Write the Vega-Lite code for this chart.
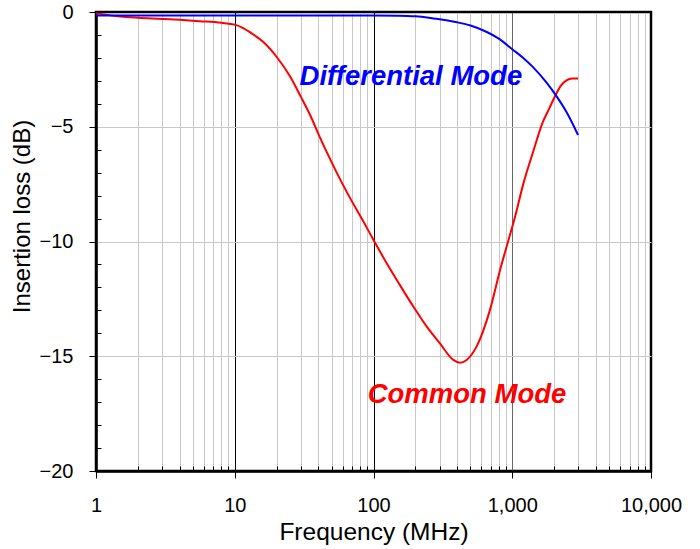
{
  "$schema": "https://vega.github.io/schema/vega-lite/v6.json",
  "width": 555,
  "height": 459,
  "autosize": {"type": "none"},
  "padding": {"left": 96, "top": 12, "right": 49, "bottom": 78},
  "background": "white",
  "config": {
    "font": "Liberation Sans",
    "view": {"stroke": "black", "strokeWidth": 2.5},
    "axis": {"labelColor": "black", "titleColor": "black", "tickColor": "black", "domainColor": "black", "titleFontWeight": "normal", "labelFont": "Liberation Sans", "titleFont": "Liberation Sans"}
  },
  "datasets": {
    "curves": [
      {"mode": "Common", "f": 1, "v": -0.06},
      {"mode": "Common", "f": 1.5, "v": -0.2},
      {"mode": "Common", "f": 2, "v": -0.25},
      {"mode": "Common", "f": 3, "v": -0.3},
      {"mode": "Common", "f": 4, "v": -0.34},
      {"mode": "Common", "f": 5.6, "v": -0.4},
      {"mode": "Common", "f": 8, "v": -0.47},
      {"mode": "Common", "f": 10, "v": -0.55},
      {"mode": "Common", "f": 11.5, "v": -0.7},
      {"mode": "Common", "f": 13, "v": -0.9},
      {"mode": "Common", "f": 16, "v": -1.3},
      {"mode": "Common", "f": 20, "v": -1.95},
      {"mode": "Common", "f": 25, "v": -2.8},
      {"mode": "Common", "f": 30, "v": -3.7},
      {"mode": "Common", "f": 35, "v": -4.5},
      {"mode": "Common", "f": 41, "v": -5.45},
      {"mode": "Common", "f": 48.6, "v": -6.4},
      {"mode": "Common", "f": 57, "v": -7.25},
      {"mode": "Common", "f": 67.7, "v": -8.1},
      {"mode": "Common", "f": 84, "v": -9.1},
      {"mode": "Common", "f": 100, "v": -9.93},
      {"mode": "Common", "f": 124.5, "v": -10.95},
      {"mode": "Common", "f": 155, "v": -11.9},
      {"mode": "Common", "f": 194, "v": -12.84},
      {"mode": "Common", "f": 242, "v": -13.71},
      {"mode": "Common", "f": 301, "v": -14.44},
      {"mode": "Common", "f": 376, "v": -15.16},
      {"mode": "Common", "f": 420, "v": -15.28},
      {"mode": "Common", "f": 469, "v": -15.16},
      {"mode": "Common", "f": 553, "v": -14.58},
      {"mode": "Common", "f": 691, "v": -12.98},
      {"mode": "Common", "f": 817, "v": -11.24},
      {"mode": "Common", "f": 933, "v": -10.0},
      {"mode": "Common", "f": 1050, "v": -8.9},
      {"mode": "Common", "f": 1200, "v": -7.5},
      {"mode": "Common", "f": 1413, "v": -6.1},
      {"mode": "Common", "f": 1660, "v": -4.8},
      {"mode": "Common", "f": 1850, "v": -4.2},
      {"mode": "Common", "f": 2040, "v": -3.65},
      {"mode": "Common", "f": 2250, "v": -3.2},
      {"mode": "Common", "f": 2460, "v": -2.98},
      {"mode": "Common", "f": 2700, "v": -2.9},
      {"mode": "Common", "f": 2980, "v": -2.9},
      {"mode": "Differential", "f": 1, "v": -0.15},
      {"mode": "Differential", "f": 10, "v": -0.15},
      {"mode": "Differential", "f": 100, "v": -0.15},
      {"mode": "Differential", "f": 150, "v": -0.16},
      {"mode": "Differential", "f": 200, "v": -0.19},
      {"mode": "Differential", "f": 250, "v": -0.25},
      {"mode": "Differential", "f": 300, "v": -0.32},
      {"mode": "Differential", "f": 400, "v": -0.45},
      {"mode": "Differential", "f": 500, "v": -0.59},
      {"mode": "Differential", "f": 650, "v": -0.86},
      {"mode": "Differential", "f": 800, "v": -1.16},
      {"mode": "Differential", "f": 1000, "v": -1.62},
      {"mode": "Differential", "f": 1200, "v": -2.0},
      {"mode": "Differential", "f": 1400, "v": -2.38},
      {"mode": "Differential", "f": 1780, "v": -3.1},
      {"mode": "Differential", "f": 2100, "v": -3.7},
      {"mode": "Differential", "f": 2460, "v": -4.36},
      {"mode": "Differential", "f": 2980, "v": -5.36}
    ],
    "labels": [
      {"label": "Differential Mode", "f": 186, "v": -3.18},
      {"label": "Common Mode", "f": 472, "v": -17.04}
    ]
  },
  "layer": [
    {
      "data": {"name": "curves"},
      "transform": [{"filter": "datum.mode == 'Common'"}],
      "mark": {"type": "line", "color": "#ff0000", "strokeWidth": 2, "interpolate": "monotone"},
      "encoding": {
        "x": {"field": "f", "type": "quantitative", "scale": {"type": "log", "domain": [1, 10000]},
          "axis": {"orient": "bottom", "values": [2,3,4,5,6,7,8,9,20,30,40,50,60,70,80,90,200,300,400,500,600,700,800,900,2000,3000,4000,5000,6000,7000,8000,9000],
            "grid": true, "gridColor": "#c8c8c8", "gridWidth": 1, "labels": false, "domain": false, "ticks": true, "tickSize": -5, "title": null}},
        "y": {"field": "v", "type": "quantitative", "scale": {"domain": [-20, 0]},
          "axis": {"orient": "left", "values": [-1,-2,-3,-4,-6,-7,-8,-9,-11,-12,-13,-14,-16,-17,-18,-19],
            "grid": false, "labels": false, "domain": false, "ticks": true, "tickSize": -5, "title": null}}
      }
    },
    {
      "data": {"name": "curves"},
      "transform": [{"filter": "datum.mode == 'Differential'"}],
      "mark": {"type": "line", "color": "#0000ff", "strokeWidth": 2, "interpolate": "monotone"},
      "encoding": {
        "x": {"field": "f", "type": "quantitative", "scale": {"type": "log", "domain": [1, 10000]},
          "axis": {"orient": "bottom", "values": [1, 10, 100, 1000, 10000], "format": ",", "grid": true,
            "gridColor": {"condition": {"test": "datum.value == 1000", "value": "#666666"}, "value": "black"}, "gridWidth": 1,
            "tickSize": 7, "domainWidth": 2.5, "labelFontSize": 20, "labelPadding": 17, "labelFlush": false, "labelOverlap": false,
            "title": "Frequency (MHz)", "titleFontSize": 24.5, "titlePadding": 5}},
        "y": {"field": "v", "type": "quantitative", "scale": {"domain": [-20, 0]},
          "axis": {"orient": "left", "values": [0, -5, -10, -15, -20], "grid": true,
            "gridColor": {"condition": {"test": "datum.value == 0 || datum.value == -20", "value": "black"}, "value": "#c8c8c8"},
            "tickSize": 7, "domainWidth": 2.5, "labelFontSize": 20, "labelPadding": 16, "labelFlush": false, "labelOverlap": false,
            "title": "Insertion loss (dB)", "titleFontSize": 24, "titlePadding": 5, "titleY": 204}}
      }
    },
    {
      "data": {"name": "labels"},
      "mark": {"type": "text", "fontStyle": "italic", "fontWeight": "bold", "fontSize": 27.5, "align": "center", "baseline": "alphabetic", "font": "Liberation Sans"},
      "encoding": {
        "x": {"field": "f", "type": "quantitative", "scale": {"type": "log", "domain": [1, 10000]}, "axis": null},
        "y": {"field": "v", "type": "quantitative", "scale": {"domain": [-20, 0]}, "axis": null},
        "text": {"field": "label"},
        "color": {"field": "label", "type": "nominal", "scale": {"domain": ["Differential Mode", "Common Mode"], "range": ["#0000ff", "#ff0000"]}, "legend": null}
      }
    }
  ],
  "resolve": {"axis": {"x": "independent", "y": "independent"}}
}
